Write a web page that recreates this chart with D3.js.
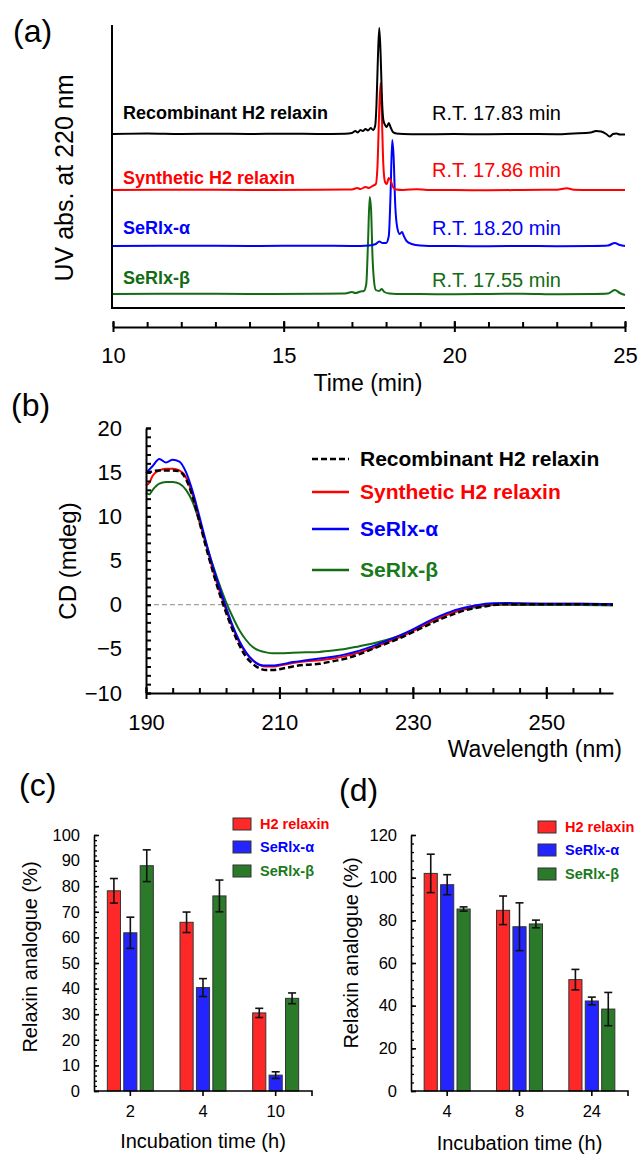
<!DOCTYPE html>
<html>
<head>
<meta charset="utf-8">
<script src="https://cdn.jsdelivr.net/npm/d3@7"></script>
<style>
  body { margin: 0; background: #fff; }
  svg { display: block; }
  text { font-family: "Liberation Sans", Arial, sans-serif; }
</style>
</head>
<body>
<div id="chart"></div>
<script>
// ---------- (a) HPLC traces : [time (min), signal above baseline] ----------
const timeTicks = [10, 15, 20, 25];
const chromNames = ["Recombinant H2 relaxin", "Synthetic H2 relaxin", "SeRlx-α", "SeRlx-β"];
const chromRT = ["R.T. 17.83 min", "R.T. 17.86 min", "R.T. 18.20 min", "R.T. 17.55 min"];

const chromRecombinant = [[10,0],[11,0.5],[12,0],[13,0.3],[14,0],[15,0.3],[16,0],[16.8,0.3],[17.0,1],[17.1,3],[17.17,1.5],
  [17.25,4],[17.32,3],[17.4,5],[17.47,3.5],[17.55,6],[17.62,4],[17.68,8],[17.72,30],[17.76,75],[17.8,106],[17.84,80],
  [17.88,35],[17.92,14],[17.97,9],[18.02,7],[18.08,11],[18.13,7],[18.2,2],[18.3,0.5],[18.5,0],[19,-0.3],[20,0],[21,-0.3],
  [22,0],[23,-0.3],[23.5,0.5],[24,1.5],[24.15,3],[24.3,2.5],[24.45,0],[24.55,-2.5],[24.65,0],[24.75,0.5],[24.85,-0.5],[25,-0.5]];
const chromSynthetic = [[10,0],[12,0.3],[14,0],[16,0.3],[17,0.5],[17.15,2],[17.25,1],[17.4,3],[17.5,2],[17.6,4],[17.7,6],
  [17.75,25],[17.8,80],[17.84,107],[17.88,70],[17.92,25],[17.97,8],[18.02,6],[18.08,12],[18.13,10],[18.2,3],[18.3,0.5],
  [18.5,0],[18.9,0.8],[19.2,0],[20,0],[21,-0.3],[22,0],[23,0.3],[23.3,1.8],[23.5,0.3],[24,0],[25,0]];
const chromAlpha = [[10,0],[12,0.3],[14,0],[16,0.3],[17,0],[17.5,0.5],[17.7,2],[17.8,4.5],[17.9,3],[18.0,3],[18.08,10],
  [18.13,50],[18.18,106],[18.22,90],[18.27,40],[18.33,18],[18.4,12],[18.47,14],[18.52,10],[18.6,5],[18.75,2],[19,0.5],
  [19.5,0],[20,0],[21,-0.3],[22,0],[23,-0.3],[24,0],[24.5,0.5],[24.7,3],[24.85,1],[25,0]];
const chromBeta = [[10,0],[12,0.3],[14,0],[16,0.3],[16.8,0.5],[17.0,2],[17.1,1],[17.25,2.5],[17.35,3],[17.42,10],[17.47,50],
  [17.52,97],[17.56,85],[17.6,40],[17.65,12],[17.7,4],[17.8,3],[17.87,5],[17.95,2],[18.1,0.5],[18.5,0],[19,0],[20,-0.3],
  [21,0],[22,0.3],[23,-0.3],[24,0],[24.5,0.5],[24.7,4],[24.85,1],[25,-1]];

// ---------- (b) CD spectra ----------
const wavelength = [190, 190.5, 191, 192, 193, 194, 195, 196, 197, 198, 199, 200, 201, 202, 203, 204, 205, 206, 207, 208,
  209, 210, 212, 214, 216, 218, 220, 222, 224, 226, 228, 230, 232, 234, 236, 238, 240, 242, 244, 246, 250, 255, 260];
const cdRecombinant = [15.0, 15.0, 15.1, 15.2, 15.2, 15.2, 15.1, 14.2, 12.2, 9.4, 6.5, 3.8, 1.3, -0.9, -2.9, -4.6, -5.9,
  -6.7, -7.2, -7.4, -7.4, -7.3, -7.0, -6.8, -6.7, -6.4, -6.1, -5.6, -5.0, -4.4, -3.8, -3.1, -2.4, -1.7, -1.1, -0.6, -0.3,
  -0.05, 0.05, 0.05, 0.05, 0.05, 0.0];
const cdSynthetic = [13.5, 13.8, 14.6, 15.2, 15.4, 15.4, 15.2, 14.4, 12.4, 9.6, 6.8, 4.0, 1.6, -0.6, -2.6, -4.3, -5.5,
  -6.3, -6.8, -7.0, -7.0, -6.9, -6.6, -6.4, -6.3, -6.1, -5.8, -5.4, -4.9, -4.3, -3.7, -3.0, -2.2, -1.5, -0.9, -0.4, -0.1,
  0.05, 0.1, 0.1, 0.1, 0.1, 0.05];
const cdAlpha = [14.9, 15.3, 15.7, 16.5, 16.1, 16.4, 16.2, 15.0, 12.8, 10.0, 7.1, 4.4, 2.0, -0.3, -2.4, -4.1, -5.4,
  -6.3, -6.8, -6.9, -6.9, -6.8, -6.5, -6.3, -6.1, -5.9, -5.6, -5.2, -4.7, -4.1, -3.5, -2.8, -2.0, -1.3, -0.7, -0.3, 0.0,
  0.15, 0.2, 0.15, 0.1, 0.1, 0.05];
const cdBeta = [12.7, 12.5, 13.0, 13.7, 13.9, 13.9, 13.7, 13.0, 11.6, 9.4, 6.9, 4.5, 2.3, 0.3, -1.4, -2.9, -4.0,
  -4.8, -5.2, -5.4, -5.5, -5.5, -5.45, -5.4, -5.35, -5.2, -5.0, -4.7, -4.4, -4.0, -3.5, -2.9, -2.2, -1.5, -0.9, -0.5, -0.2,
  -0.05, 0.0, -0.05, -0.05, -0.05, -0.1];
const cdTicks = [-10, -5, 0, 5, 10, 15, 20];
const wlTicks = [190, 210, 230, 250];

// ---------- (c), (d) stability bars ----------
const barSeries = ["H2 relaxin", "SeRlx-α", "SeRlx-β"];
const timesC = ["2", "4", "10"];
const h2C = [78.2, 65.9, 30.5], errH2C = [4.8, 4.0, 1.8];
const alphaC = [61.8, 40.4, 6.2], errAlphaC = [6.1, 3.5, 1.3];
const betaC = [88.0, 76.2, 36.2], errBetaC = [6.2, 6.2, 2.1];
const timesD = ["4", "8", "24"];
const h2D = [102.0, 84.7, 52.2], errH2D = [9.0, 6.7, 4.8];
const alphaD = [96.7, 77.0, 42.2], errAlphaD = [4.7, 11.2, 1.8];
const betaD = [85.3, 78.3, 38.4], errBetaD = [1.0, 1.8, 7.8];

const lineColors = ["#000000", "#ff0000", "#0000ff", "#136b13"];
const barColors = ["#ff2828", "#2424ff", "#2a7a2a"];
const textColors = ["#ff0000", "#0000ff", "#1a7a1a"];
const FONT = '"Liberation Sans", Arial, sans-serif';

const svg = d3.select("#chart").append("svg")
    .attr("width", 640)
    .attr("height", 1155);
svg.append("rect").attr("width", 640).attr("height", 1155).attr("fill", "#fff");

function panelLabel(txt, x, y) {
    svg.append("text").attr("x", x).attr("y", y).attr("font-size", 32).text(txt);
}

function styleAxis(g, width) {
    g.selectAll("path, line").attr("stroke", "#000").attr("stroke-width", width);
}

// =============== (a) ===============
panelLabel("(a)", 13, 42);
const xA = d3.scaleLinear().domain([10, 25]).range([113, 625]);
const yA = d3.scaleLinear().domain([0, 283]).range([308, 25]);
const offsets = [174, 118, 62, 14];
const chroms = [chromRecombinant, chromSynthetic, chromAlpha, chromBeta];

// frame
svg.append("line").attr("x1", 112).attr("x2", 112).attr("y1", yA(283)).attr("y2", yA(0) + 1)
    .attr("stroke", "#000").attr("stroke-width", 2);
svg.append("line").attr("x1", 112).attr("x2", 625).attr("y1", yA(0)).attr("y2", yA(0))
    .attr("stroke", "#000").attr("stroke-width", 2);

// draw bottom trace first so the black one sits on top
[3, 2, 1, 0].forEach(i => {
    const line = d3.line()
        .x(d => xA(d[0]))
        .y(d => yA(d[1] + offsets[i]))
        .curve(d3.curveMonotoneX);
    svg.append("path").datum(chroms[i])
        .attr("d", line)
        .attr("fill", "none")
        .attr("stroke", lineColors[i])
        .attr("stroke-width", 2);
});

const nameY = [119, 184, 234, 284];
const rtY = [120, 177, 235, 287];
chromNames.forEach((n, i) => {
    svg.append("text").attr("x", 123).attr("y", nameY[i])
        .attr("font-size", 18).attr("font-weight", "bold")
        .attr("fill", lineColors[i]).text(n);
    svg.append("text").attr("x", 432).attr("y", rtY[i])
        .attr("font-size", 20).attr("fill", lineColors[i]).text(chromRT[i]);
});

const axAminor = svg.append("g").attr("transform", "translate(0,327)")
    .call(d3.axisTop(xA).tickValues(d3.range(10, 26, 1)).tickSize(5).tickSizeOuter(0).tickFormat(""));
axAminor.select(".domain").remove();
styleAxis(axAminor, 2);
const axA = svg.append("g").attr("transform", "translate(0,327)")
    .call(d3.axisBottom(xA).tickValues(timeTicks).tickSize(5).tickSizeOuter(0).tickPadding(15));
axA.selectAll(".tick line").attr("y1", -6);
axA.selectAll(".tick text").attr("font-size", 22).attr("font-family", FONT);
styleAxis(axA, 2);

svg.append("text").attr("x", 368).attr("y", 391).attr("text-anchor", "middle")
    .attr("font-size", 23).text("Time (min)");
svg.append("text").attr("transform", "translate(73,178) rotate(-90)")
    .attr("text-anchor", "middle").attr("font-size", 25).text("UV abs. at 220 nm");

// =============== (b) ===============
panelLabel("(b)", 11, 416);
const xB = d3.scaleLinear().domain([190, 260]).range([146, 613]);
const yB = d3.scaleLinear().domain([-10, 20]).range([693, 428]);

svg.append("line").attr("x1", xB(190)).attr("x2", xB(260)).attr("y1", yB(0)).attr("y2", yB(0))
    .attr("stroke", "#a0a0a0").attr("stroke-width", 1.2).attr("stroke-dasharray", "5,3");

const cdSeries = [cdRecombinant, cdSynthetic, cdAlpha, cdBeta];
const cdLine = vals => d3.line()
    .x((d, k) => xB(wavelength[k]))
    .y(d => yB(d))
    .curve(d3.curveMonotoneX)(vals);
[3, 1, 2, 0].forEach(i => {
    svg.append("path")
        .attr("d", cdLine(cdSeries[i]))
        .attr("fill", "none")
        .attr("stroke", lineColors[i])
        .attr("stroke-width", i === 0 ? 2.5 : 2)
        .attr("stroke-dasharray", i === 0 ? "6,3" : null);
});

const axByMinor = svg.append("g").attr("transform", `translate(${xB(190)},0)`)
    .call(d3.axisRight(yB).tickValues(d3.range(-10, 21, 1)).tickSize(5).tickSizeOuter(0).tickFormat(""));
axByMinor.select(".domain").remove();
styleAxis(axByMinor, 2);
const axBy = svg.append("g").attr("transform", `translate(${xB(190)},0)`)
    .call(d3.axisLeft(yB).tickValues(cdTicks).tickSize(7).tickSizeOuter(0).tickPadding(17));
axBy.selectAll(".tick line").attr("x2", 5);
axBy.selectAll(".tick text").attr("font-size", 22).attr("font-family", FONT);
styleAxis(axBy, 2);

const axBxMinor = svg.append("g").attr("transform", `translate(0,${yB(-10)})`)
    .call(d3.axisTop(xB).tickValues(d3.range(190, 260, 4)).tickSize(5).tickSizeOuter(0).tickFormat(""));
axBxMinor.select(".domain").remove();
styleAxis(axBxMinor, 2);
const axBx = svg.append("g").attr("transform", `translate(0,${yB(-10)})`)
    .call(d3.axisBottom(xB).tickValues(wlTicks).tickSize(6).tickSizeOuter(0).tickPadding(15));
axBx.selectAll(".tick line").attr("y1", -6);
axBx.selectAll(".tick text").attr("font-size", 22).attr("font-family", FONT);
styleAxis(axBx, 2);

svg.append("text").attr("x", 622).attr("y", 757).attr("text-anchor", "end")
    .attr("font-size", 23).text("Wavelength (nm)");
svg.append("text").attr("transform", "translate(76,561) rotate(-90)")
    .attr("text-anchor", "middle").attr("font-size", 24).text("CD (mdeg)");

const legY = [459, 492, 529, 570];
chromNames.forEach((n, i) => {
    svg.append("line").attr("x1", 312).attr("x2", 349).attr("y1", legY[i]).attr("y2", legY[i])
        .attr("stroke", lineColors[i]).attr("stroke-width", 2.5)
        .attr("stroke-dasharray", i === 0 ? "6,3" : null);
    svg.append("text").attr("x", 360).attr("y", legY[i] + 7)
        .attr("font-size", 21).attr("font-weight", "bold")
        .attr("fill", i === 0 ? "#000" : textColors[i - 1]).text(n);
});

// =============== (c) & (d) ===============
function barPanel(opt) {
    const x0 = d3.scaleBand().domain(opt.cats).range([opt.left, opt.right]);
    const x1 = d3.scaleBand().domain(barSeries).range([-23, 23]).paddingInner(0.2);
    const y = d3.scaleLinear().domain([0, opt.max]).range([1091, 835]);
    const vals = [opt.h2, opt.alpha, opt.beta];
    const errs = [opt.eH2, opt.eAlpha, opt.eBeta];

    barSeries.forEach((s, si) => {
        opt.cats.forEach((c, ci) => {
            const cx = x0(c) + x0.bandwidth() / 2;
            svg.append("rect")
                .attr("x", cx + x1(s))
                .attr("y", y(vals[si][ci]))
                .attr("width", x1.bandwidth())
                .attr("height", y(0) - y(vals[si][ci]))
                .attr("fill", barColors[si])
                .attr("stroke", "#333").attr("stroke-width", 1);
            const ex = cx + x1(s) + x1.bandwidth() / 2;
            const top = y(vals[si][ci] + errs[si][ci]);
            const bot = y(vals[si][ci] - errs[si][ci]);
            const eg = svg.append("g").attr("stroke", "#111").attr("stroke-width", 1.6);
            eg.append("line").attr("x1", ex).attr("x2", ex).attr("y1", top).attr("y2", bot);
            eg.append("line").attr("x1", ex - 4).attr("x2", ex + 4).attr("y1", top).attr("y2", top);
            eg.append("line").attr("x1", ex - 4).attr("x2", ex + 4).attr("y1", bot).attr("y2", bot);
        });
    });

    const yMinor = svg.append("g").attr("transform", `translate(${opt.left},0)`)
        .call(d3.axisRight(y).tickValues(d3.range(0, opt.max + 0.1, opt.minor)).tickSize(3).tickSizeOuter(0).tickFormat(""));
    yMinor.select(".domain").remove();
    styleAxis(yMinor, 1.3);
    const yAx = svg.append("g").attr("transform", `translate(${opt.left},0)`)
        .call(d3.axisLeft(y).tickValues(opt.ticks).tickSize(5).tickSizeOuter(0).tickPadding(9));
    yAx.selectAll(".tick line").attr("x2", 5);
    yAx.selectAll(".tick text").attr("font-size", 16.5).attr("font-family", FONT);
    styleAxis(yAx, 1.6);

    const xAx = svg.append("g").attr("transform", "translate(0,1091)")
        .call(d3.axisBottom(x0).tickSize(5).tickSizeOuter(5).tickPadding(9));
    xAx.selectAll(".tick text").attr("font-size", 16.5).attr("font-family", FONT);
    styleAxis(xAx, 1.6);
    xAx.select(".domain").attr("d", `M${opt.left},0H${opt.right}V5`);

    svg.append("text").attr("x", (opt.left + opt.right) / 2).attr("y", opt.xTitleY)
        .attr("text-anchor", "middle").attr("font-size", 20).text("Incubation time (h)");
    svg.append("text").attr("transform", `translate(${opt.yTitleX},${opt.yTitleC}) rotate(-90)`)
        .attr("text-anchor", "middle").attr("font-size", 20).text("Relaxin analogue (%)");

    const lgY = opt.legendY;
    barSeries.forEach((s, si) => {
        svg.append("rect").attr("x", opt.legendX).attr("y", lgY[si] - 6)
            .attr("width", 18).attr("height", 12)
            .attr("fill", barColors[si]).attr("stroke", "#333").attr("stroke-width", 1);
        svg.append("text").attr("x", opt.legendX + 27).attr("y", lgY[si] + 5)
            .attr("font-size", 14.5).attr("font-weight", "bold")
            .attr("fill", textColors[si]).text(s);
    });
}

panelLabel("(c)", 19, 796);
barPanel({
    cats: timesC, left: 94, right: 312, max: 100, minor: 2,
    ticks: [0, 10, 20, 30, 40, 50, 60, 70, 80, 90, 100],
    h2: h2C, alpha: alphaC, beta: betaC, eH2: errH2C, eAlpha: errAlphaC, eBeta: errBetaC,
    xTitleY: 1148, yTitleX: 37, yTitleC: 957, legendX: 233, legendY: [824, 847, 871]
});

panelLabel("(d)", 339, 801);
barPanel({
    cats: timesD, left: 411, right: 628, max: 120, minor: 4,
    ticks: [0, 20, 40, 60, 80, 100, 120],
    h2: h2D, alpha: alphaD, beta: betaD, eH2: errH2D, eAlpha: errAlphaD, eBeta: errBetaD,
    xTitleY: 1150, yTitleX: 358, yTitleC: 953, legendX: 538, legendY: [827, 850, 874]
});
</script>
</body>
</html>
